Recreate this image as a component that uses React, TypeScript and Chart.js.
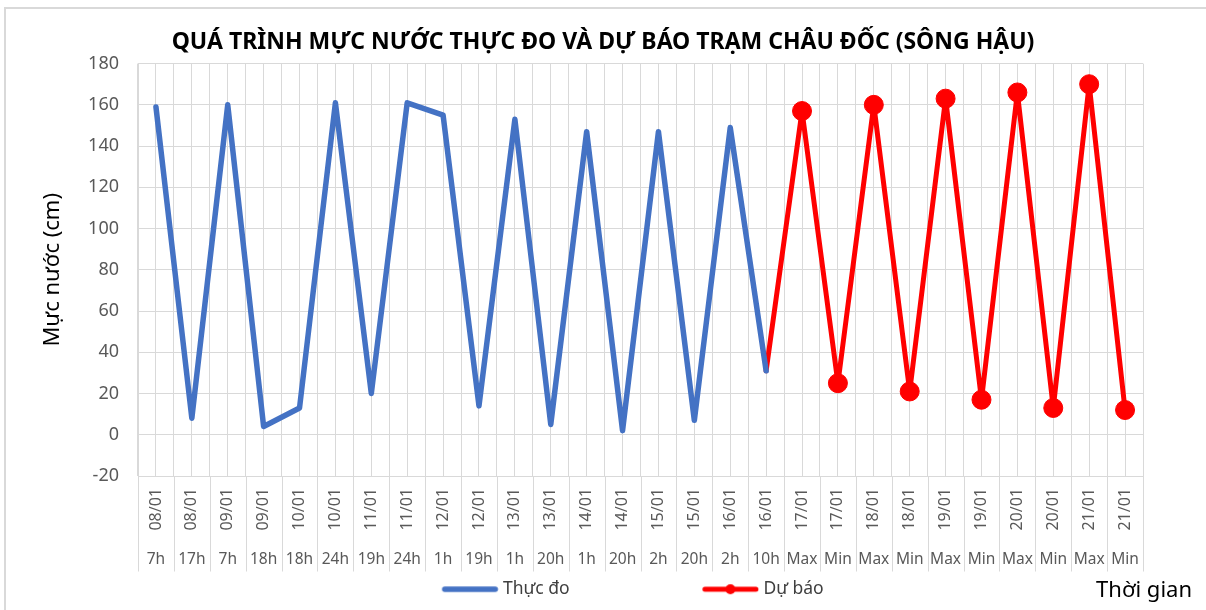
import React, { useEffect, useRef } from 'react';
import { Chart, registerables } from 'chart.js';

Chart.register(...registerables);

// ---------- data ----------
const DATES = [
  '08/01', '08/01', '09/01', '09/01', '10/01', '10/01', '11/01', '11/01',
  '12/01', '12/01', '13/01', '13/01', '14/01', '14/01', '15/01', '15/01',
  '16/01', '16/01', '17/01', '17/01', '18/01', '18/01', '19/01', '19/01',
  '20/01', '20/01', '21/01', '21/01',
];
const HOURS = [
  '7h', '17h', '7h', '18h', '18h', '24h', '19h', '24h', '1h', '19h', '1h', '20h',
  '1h', '20h', '2h', '20h', '2h', '10h', 'Max', 'Min', 'Max', 'Min', 'Max', 'Min',
  'Max', 'Min', 'Max', 'Min',
];
// Observed (Thực đo), from 08/01 7h to 16/01 10h
const OBSERVED = [159, 8, 160, 4, 13, 161, 20, 161, 155, 14, 153, 5, 147, 2, 147, 7, 149, 31];
// Forecast (Dự báo), starting at 16/01 10h
const FORECAST_START = 17;
const FORECAST = [31, 157, 25, 160, 21, 163, 17, 166, 13, 170, 12];

const Y_MIN = -20;
const Y_MAX = 180;
const Y_STEP = 20;

const TITLE = 'QUÁ TRÌNH MỰC NƯỚC THỰC ĐO VÀ DỰ BÁO TRẠM CHÂU ĐỐC (SÔNG HẬU)';
const Y_TITLE = 'Mực nước (cm)';
const X_TITLE = 'Thời gian';
const SERIES_LABELS = ['Thực đo', 'Dự báo'];
const COLORS = ['#4472c4', '#ff0000'];

const FONT = "'Noto Sans', 'Open Sans', sans-serif";
const GRID = '#d9d9d9';
const TICK_COLOR = '#595959';

// legend geometry
const LEG_FONT = 17.5;
const LEG_W = 175;
const LEG_PAD = 10;
const LEG_TEXT1_X = 503;

function makeLegendImage(color: string, lw: number, dot: boolean): HTMLCanvasElement {
  const c = document.createElement('canvas');
  c.width = 184;
  c.height = 14;
  const g = c.getContext('2d')!;
  const textStart = 92 + (LEG_W / 2) + LEG_FONT / 2; // local x of text start
  const end = textStart - 5;
  const start = end - 56;
  g.strokeStyle = color;
  g.lineWidth = lw;
  g.lineCap = 'round';
  g.beginPath();
  g.moveTo(start + lw / 2, 7);
  g.lineTo(end - lw / 2, 7);
  g.stroke();
  if (dot) {
    g.fillStyle = color;
    g.beginPath();
    g.arc((start + end) / 2, 7, 5, 0, Math.PI * 2);
    g.fill();
  }
  return c;
}

const decorPlugin = {
  id: 'decor',
  beforeDraw(chart: any) {
    const ctx = chart.ctx;
    ctx.save();
    ctx.strokeStyle = GRID;
    ctx.lineWidth = 2;
    ctx.strokeRect(5, 8, chart.width + 100, chart.height + 100);
    ctx.restore();
  },
  afterLayout(chart: any) {
    const lg = chart.legend;
    if (lg) {
      const box1 = LEG_TEXT1_X - LEG_W - LEG_FONT / 2;
      const dx = box1 - (lg.left + LEG_PAD);
      lg.left += dx;
      lg.right += dx;
    }
  },
  afterDraw(chart: any) {
    const ctx = chart.ctx;
    const xs = chart.scales.x;
    const x2 = chart.scales.x2;
    const step = xs.getPixelForValue(1) - xs.getPixelForValue(0);
    ctx.save();
    ctx.strokeStyle = GRID;
    ctx.lineWidth = 1;
    for (let i = 0; i <= DATES.length; i++) {
      const px = Math.round(xs.getPixelForValue(0) + (i - 0.5) * step) + 0.5;
      ctx.beginPath();
      ctx.moveTo(px, chart.chartArea.bottom);
      ctx.lineTo(px, x2.bottom + 1);
      ctx.stroke();
    }
    const lg = chart.legend;
    ctx.font = `22px ${FONT}`;
    ctx.fillStyle = '#000';
    ctx.textAlign = 'right';
    ctx.textBaseline = 'middle';
    ctx.fillText(X_TITLE, chart.width - 14, lg.top + LEG_PAD + LEG_FONT / 2 + 1);
    ctx.restore();
  },
};

export default function App() {
  const ref = useRef<HTMLCanvasElement | null>(null);

  useEffect(() => {
    document.body.style.margin = '0';
    const canvas = ref.current;
    if (!canvas) return;
    Chart.defaults.font.family = FONT;

    const forecastData = DATES.map((_, i) =>
      i < FORECAST_START ? null : FORECAST[i - FORECAST_START] ?? null,
    );
    const legendImages = [makeLegendImage(COLORS[0], 5.5, false), makeLegendImage(COLORS[1], 5, true)];

    const chart = new Chart(canvas, {
      type: 'line',
      data: {
        labels: DATES,
        datasets: [
          {
            label: SERIES_LABELS[0],
            data: OBSERVED,
            borderColor: COLORS[0],
            backgroundColor: COLORS[0],
            borderWidth: 5.5,
            pointRadius: 0,
            borderJoinStyle: 'round',
            borderCapStyle: 'round',
            xAxisID: 'x',
            yAxisID: 'y',
          },
          {
            label: SERIES_LABELS[1],
            data: forecastData,
            borderColor: COLORS[1],
            backgroundColor: COLORS[1],
            borderWidth: 5,
            pointRadius: (c: any) => (c.dataIndex === FORECAST_START ? 0 : 9.5),
            pointBackgroundColor: COLORS[1],
            pointBorderColor: COLORS[1],
            pointBorderWidth: 1,
            borderJoinStyle: 'round',
            borderCapStyle: 'round',
            xAxisID: 'x',
            yAxisID: 'y',
          },
        ],
      },
      options: {
        animation: false,
        responsive: true,
        maintainAspectRatio: false,
        events: [],
        layout: { padding: { top: 10, left: 6, right: 6, bottom: 2 } },
        plugins: {
          title: {
            display: true,
            text: TITLE,
            color: '#000',
            font: { family: FONT, size: 23, weight: 'bold' },
            padding: { top: 19, bottom: 7 },
          },
          legend: {
            display: true,
            position: 'bottom',
            align: 'start',
            labels: {
              usePointStyle: true,
              pointStyleWidth: LEG_W,
              boxHeight: LEG_FONT,
              padding: LEG_PAD,
              color: TICK_COLOR,
              font: { family: FONT, size: LEG_FONT },
              generateLabels: () =>
                SERIES_LABELS.map((t, i) => ({
                  text: t,
                  pointStyle: legendImages[i],
                  fillStyle: COLORS[i],
                  strokeStyle: COLORS[i],
                  lineWidth: 0,
                  hidden: false,
                  datasetIndex: i,
                  fontColor: '#404040',
                })),
            },
          },
          tooltip: { enabled: false },
        },
        scales: {
          x: {
            type: 'category',
            position: 'bottom',
            offset: true,
            grid: { offset: true, color: GRID, drawTicks: false },
            border: { color: GRID },
            ticks: {
              autoSkip: false,
              minRotation: 90,
              maxRotation: 90,
              padding: 12,
              color: TICK_COLOR,
              font: { family: FONT, size: 16 },
            },
            afterFit: (s: any) => {
              s.height = 64;
            },
          },
          x2: {
            type: 'category',
            labels: HOURS,
            position: 'bottom',
            offset: true,
            grid: { offset: false, color: GRID, drawTicks: false },
            border: { display: false },
            ticks: {
              autoSkip: false,
              minRotation: 0,
              maxRotation: 0,
              padding: 10,
              color: TICK_COLOR,
              font: { family: FONT, size: 15.5 },
            },
            afterFit: (s: any) => {
              s.height = 30.5;
            },
          },
          y: {
            type: 'linear',
            position: 'left',
            min: Y_MIN,
            max: Y_MAX,
            ticks: {
              stepSize: Y_STEP,
              padding: 19,
              color: TICK_COLOR,
              font: { family: FONT, size: 18 },
            },
            grid: { color: GRID, drawTicks: false },
            border: { color: GRID },
            title: {
              display: true,
              text: Y_TITLE,
              color: '#000',
              font: { family: FONT, size: 22 },
              padding: { top: 34, bottom: 0 },
            },
            afterFit: (s: any) => {
              s.width = 132;
            },
          },
          yR: {
            type: 'linear',
            position: 'right',
            min: 0,
            max: 1,
            grid: { display: false },
            border: { display: false },
            ticks: { display: false },
            afterFit: (s: any) => {
              s.width = 57;
            },
          },
        },
      },
      plugins: [decorPlugin],
    } as any);

    return () => chart.destroy();
  }, []);

  return (
    <div style={{ position: 'relative', width: '1206px', height: '610px' }}>
      <canvas ref={ref} />
    </div>
  );
}
